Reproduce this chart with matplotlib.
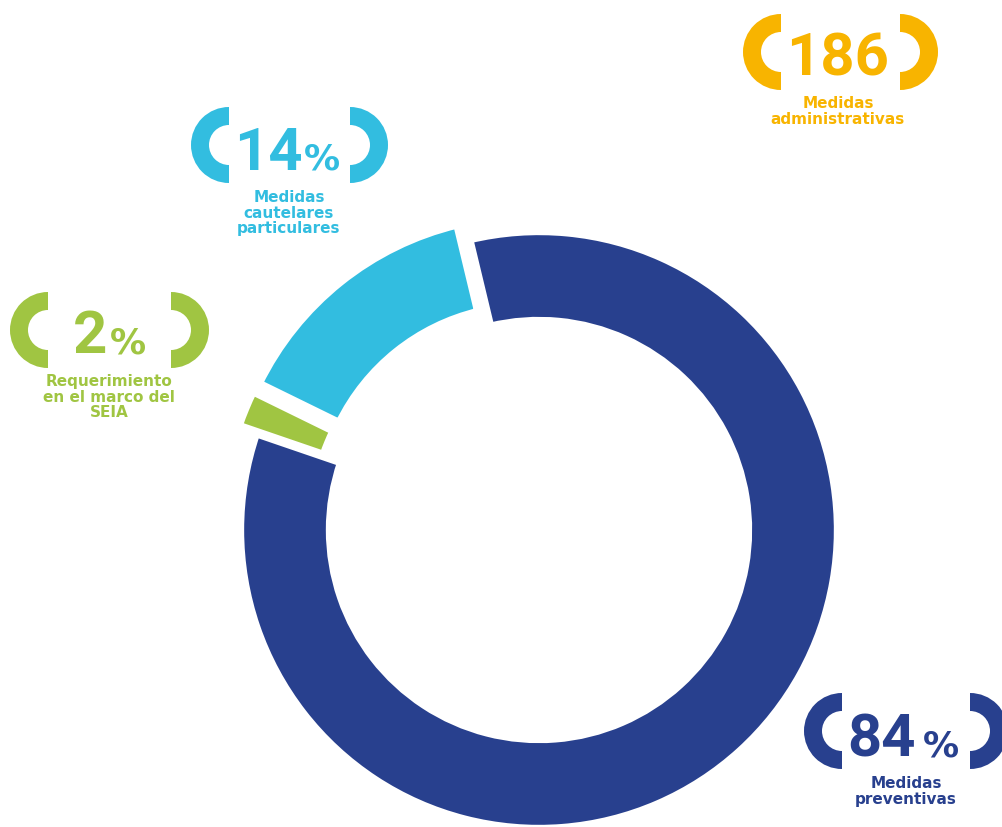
import matplotlib
matplotlib.use('Agg')
import matplotlib.pyplot as plt
from matplotlib.patches import Wedge

# Data
segments = ['Medidas preventivas', 'Requerimiento en el marco del SEIA', 'Medidas cautelares particulares']
shares = [84, 2, 14]
colors = ['#28408E', '#A0C542', '#32BDE0']
total_label = '186'
total_text = 'Medidas\nadministrativas'
total_color = '#F8B400'

W, H = 1002, 828
fig = plt.figure(figsize=(W / 100, H / 100), dpi=100)
ax = fig.add_axes([0, 0, 1, 1])

# donut (pixel units, y measured from bottom)
cx, cy, R = 539, H - 531, 299
ax.pie(shares, colors=colors, startangle=103.5, counterclock=False,
       explode=(0, 19, 19), center=(cx, cy), radius=R,
       wedgeprops=dict(width=90, edgecolor='white', linewidth=6))

ax.set_xlim(0, W)
ax.set_ylim(0, H)
ax.set_aspect('equal')
ax.axis('off')


def badge(xl, xr, yc, number, pct, text, color, num_x, pct_x, base_y, text_y, text_x):
    # bracket arcs
    ax.add_patch(Wedge((xl, H - yc), 38, 90, 270, width=18, color=color, lw=0))
    ax.add_patch(Wedge((xr, H - yc), 38, -90, 90, width=18, color=color, lw=0))
    ax.text(num_x, H - base_y, number, color=color, fontsize=43, fontweight='bold',
            family=['Roboto', 'DejaVu Sans'], ha='center', va='baseline')
    if pct:
        ax.text(pct_x, H - base_y, '%', color=color, fontsize=26, fontweight='bold',
                family=['DejaVu Sans'], ha='center', va='baseline')
    ax.text(text_x, H - text_y, text, color=color, fontsize=11, fontweight='bold',
            family=['DejaVu Sans'], ha='center', va='top', linespacing=1.05)


badge(781, 900, 53, total_label, False, total_text, total_color, 838, 0, 75, 96, 838)
badge(229, 350, 146, str(shares[2]), True, 'Medidas\ncautelares\nparticulares', colors[2], 268, 322, 170, 190, 289)
badge(48, 171, 331, str(shares[1]), True, 'Requerimiento\nen el marco del\nSEIA', colors[1], 90, 128, 353, 374, 109)
badge(842, 970, 732, str(shares[0]), True, 'Medidas\npreventivas', colors[0], 882, 941, 757, 776, 906)

fig.savefig('out.png', dpi=100)
